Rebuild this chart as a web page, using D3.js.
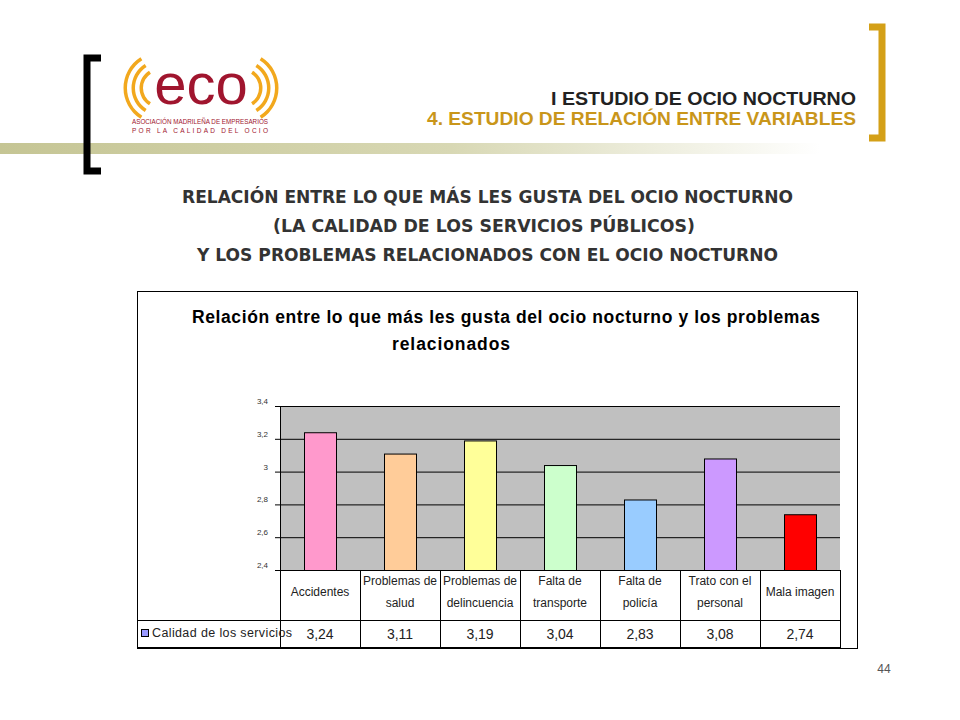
<!DOCTYPE html>
<html><head><meta charset="utf-8">
<script src="https://cdn.jsdelivr.net/npm/d3@7"></script>
<style>body{margin:0;background:#fff}svg{display:block}</style></head>
<body><svg id="c" width="960" height="720"></svg>
<script>
const categories = [["Accidentes"],["Problemas de","salud"],["Problemas de","delincuencia"],["Falta de","transporte"],["Falta de","policía"],["Trato  con el","personal"],["Mala imagen"]];
const values = [3.24,3.11,3.19,3.04,2.83,3.08,2.74];
const valueLabels = ["3,24","3,11","3,19","3,04","2,83","3,08","2,74"];
const colors = ["#ff99cc","#ffcc99","#ffff99","#ccffcc","#99ccff","#cc99ff","#ff0000"];
const yTicks = [2.4,2.6,2.8,3,3.2,3.4];
const yTickLabels = ["2,4","2,6","2,8","3","3,2","3,4"];
const seriesName = "Calidad de los servicios";

const svg = d3.select("#c");
const F = "Arial, 'Liberation Sans', sans-serif";
const gr = svg.append("defs").append("linearGradient").attr("id","gr");
gr.append("stop").attr("offset","0").attr("stop-color","#c5c594");
gr.append("stop").attr("offset","0.55").attr("stop-color","#d8d8b4");
gr.append("stop").attr("offset","1").attr("stop-color","#ffffff");
svg.append("rect").attr("x",0).attr("y",143).attr("width",820).attr("height",11).attr("fill","url(#gr)");
svg.append("path").attr("d","M101,58 H87 V171 H101").attr("fill","none").attr("stroke","#000").attr("stroke-width",7);
svg.append("path").attr("d","M869,27 H882 V138 H869").attr("fill","none").attr("stroke","#d4a017").attr("stroke-width",7);
// logo
const lg = svg.append("g");
[17,25,33].forEach(r=>{
  const a = d3.arc()({innerRadius:r,outerRadius:r+3.5,startAngle:-Math.PI*0.82,endAngle:-Math.PI*0.18});
  lg.append("path").attr("d",a).attr("transform","translate(160,88)").attr("fill","#f2a81d");
  lg.append("path").attr("d",a).attr("transform","translate(242,88) scale(-1,1)").attr("fill","#f2a81d");
});
lg.append("text").attr("x",201).attr("y",104).attr("text-anchor","middle").attr("font-family",F).attr("font-size",58).attr("fill","#a0152e").text("eco");
lg.append("text").attr("x",132).attr("y",124).attr("font-family",F).attr("font-size",6.5).attr("fill","#a0152e").attr("textLength",136).attr("lengthAdjust","spacingAndGlyphs").text("ASOCIACIÓN MADRILEÑA DE EMPRESARIOS");
lg.append("text").attr("x",132).attr("y",133).attr("font-family",F).attr("font-size",6.5).attr("fill","#a0152e").attr("textLength",136).text("POR LA CALIDAD DEL OCIO");
// headings
svg.append("text").attr("x",551).attr("y",105).attr("textLength",305).attr("lengthAdjust","spacingAndGlyphs").attr("font-family",F).attr("font-weight","bold").attr("font-size",19).attr("fill","#222").text("I ESTUDIO DE OCIO NOCTURNO");
svg.append("text").attr("x",427).attr("y",125).attr("textLength",429).attr("lengthAdjust","spacingAndGlyphs").attr("font-family",F).attr("font-weight","bold").attr("font-size",19).attr("fill","#c9961a").text("4. ESTUDIO DE RELACIÓN ENTRE VARIABLES");
[["RELACIÓN ENTRE LO QUE MÁS LES GUSTA DEL OCIO NOCTURNO",182,611],["(LA CALIDAD DE LOS SERVICIOS PÚBLICOS)",273,422],["Y LOS PROBLEMAS RELACIONADOS CON EL OCIO NOCTURNO",197,581]].forEach(([t,x0,w],i)=>
  svg.append("text").attr("x",x0).attr("y",203+i*29).attr("textLength",w).attr("lengthAdjust","spacingAndGlyphs").attr("font-family","'DejaVu Sans', sans-serif").attr("font-weight","bold").attr("font-size",17).attr("fill","#333").text(t));
svg.append("text").attr("x",884).attr("y",673).attr("text-anchor","middle").attr("font-family",F).attr("font-size",12).attr("fill","#555").text("44");

// chart box
svg.append("rect").attr("x",137.5).attr("y",291.5).attr("width",720).attr("height",357).attr("fill","#fff").attr("stroke","#000");
svg.append("text").attr("x",192).attr("y",323).attr("textLength",628).attr("font-family",F).attr("font-weight","bold").attr("font-size",17.5).text("Relación entre lo que más les gusta del ocio nocturno y los problemas");
svg.append("text").attr("x",392).attr("y",350).attr("textLength",118).attr("font-family",F).attr("font-weight","bold").attr("font-size",17.5).text("relacionados");

const L=280,R=840,T=406,B=570;
const x = d3.scaleBand().domain(d3.range(values.length)).range([L,R]);
const y = d3.scaleLinear().domain([2.4,3.4]).range([B,T]);
svg.append("rect").attr("x",L).attr("y",T).attr("width",R-L).attr("height",B-T).attr("fill","#c0c0c0");
svg.append("g").selectAll("line").data(yTicks).join("line")
  .attr("x1",L-5).attr("x2",R).attr("y1",d=>y(d)+0.5).attr("y2",d=>y(d)+0.5).attr("stroke","#000");
svg.append("line").attr("x1",L+0.5).attr("x2",L+0.5).attr("y1",T).attr("y2",B).attr("stroke","#000");
svg.append("g").selectAll("text").data(yTicks).join("text")
  .attr("x",268).attr("y",d=>y(d)-2).attr("text-anchor","end").attr("font-family",F).attr("font-size",8).attr("fill","#333")
  .text((d,i)=>yTickLabels[i]);
const bw = 32;
svg.append("g").selectAll("rect").data(values).join("rect")
  .attr("x",(d,i)=>x(i)+x.bandwidth()/2-bw/2+0.5).attr("width",bw)
  .attr("y",d=>y(d)+0.5).attr("height",d=>B-y(d))
  .attr("fill",(d,i)=>colors[i]).attr("stroke","#000");
// data table
svg.append("line").attr("x1",L).attr("x2",R).attr("y1",B+0.5).attr("y2",B+0.5).attr("stroke","#000");
svg.append("line").attr("x1",137).attr("x2",R).attr("y1",620.5).attr("y2",620.5).attr("stroke","#000");
svg.append("line").attr("x1",137).attr("x2",R).attr("y1",647.5).attr("y2",647.5).attr("stroke","#000");
svg.append("line").attr("x1",R+0.5).attr("x2",R+0.5).attr("y1",B).attr("y2",648).attr("stroke","#000");
svg.append("g").selectAll("line").data(d3.range(values.length)).join("line")
  .attr("x1",i=>Math.round(x(i))+0.5).attr("x2",i=>Math.round(x(i))+0.5).attr("y1",B).attr("y2",648).attr("stroke","#000");
const cg = svg.append("g").selectAll("text").data(categories).join("text")
  .attr("text-anchor","middle").attr("font-family",F).attr("font-size",12).attr("fill","#222");
cg.each(function(lines,i){
  const t=d3.select(this), cx=x(i)+x.bandwidth()/2;
  const y0 = lines.length===1 ? 596 : 585;
  lines.forEach((s,k)=>t.append("tspan").attr("x",cx).attr("y",y0+k*22).text(s));
});
svg.append("g").selectAll("text").data(valueLabels).join("text")
  .attr("x",(d,i)=>x(i)+x.bandwidth()/2).attr("y",639).attr("text-anchor","middle")
  .attr("font-family",F).attr("font-size",14).attr("fill","#222").text(d=>d);
svg.append("rect").attr("x",141.5).attr("y",629.5).attr("width",7).attr("height",7).attr("fill","#9999ff").attr("stroke","#000");
svg.append("text").attr("x",152).attr("y",637).attr("textLength",140).attr("font-family",F).attr("font-size",12.5).attr("fill","#222").text(seriesName);
</script></body></html>
